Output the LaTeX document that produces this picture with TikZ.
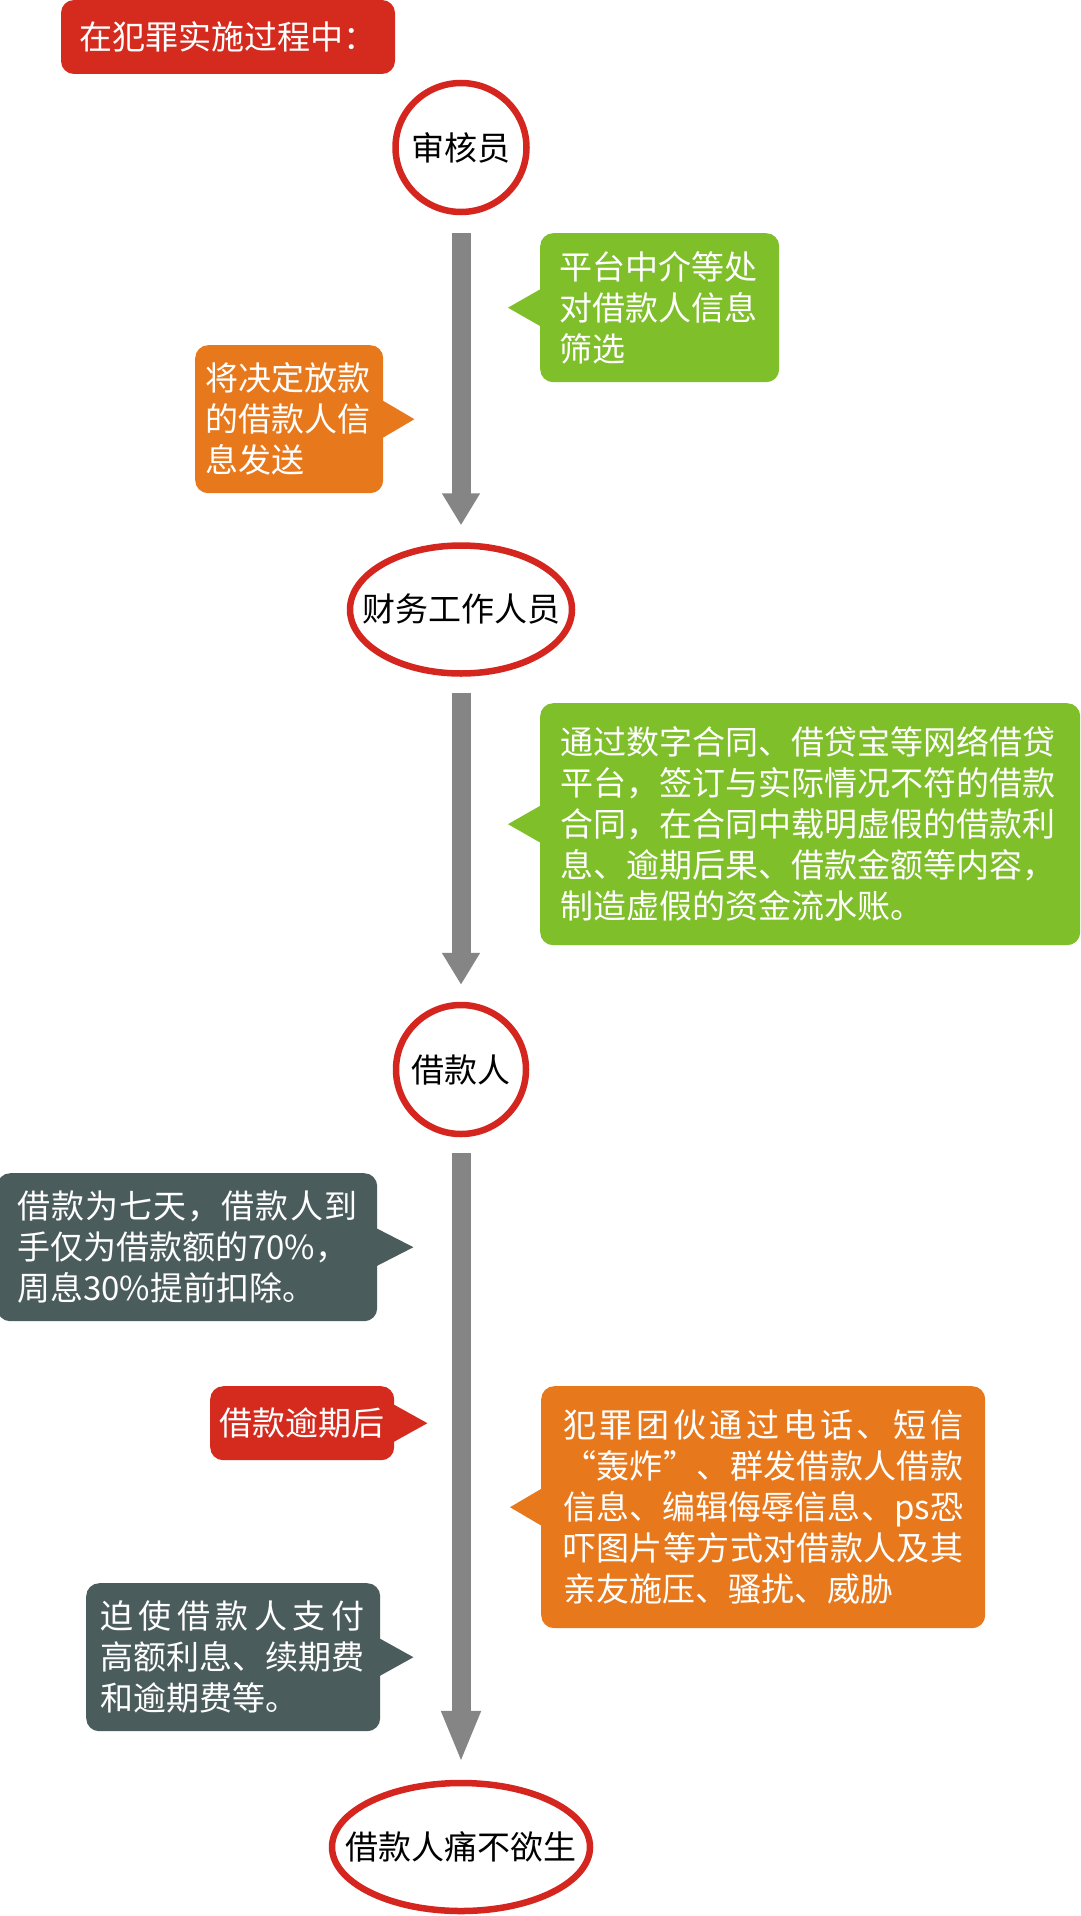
\documentclass[tikz,border=0pt]{standalone}
\usepackage{fontspec}
\setmainfont{Noto Sans CJK SC}
\usetikzlibrary{calc,arrows.meta,shapes.geometric}
\definecolor{cred}{HTML}{D52B1E}
\definecolor{cring}{HTML}{D4261E}
\definecolor{cgreen}{HTML}{7EBF2A}
\definecolor{corange}{HTML}{E8781C}
\definecolor{cdark}{HTML}{4B5C5C}
\definecolor{cgray}{HTML}{858585}
\newcommand\bubfont{\fontsize{33pt}{41pt}\selectfont}
% spread characters of a line evenly over a given width
\def\SpreadGo#1{#1\SpreadNext}
\def\SpreadNext#1{\ifx\relax#1\else\hfil#1\expandafter\SpreadNext\fi}
\newcommand\spreadline[2]{\leavevmode\hbox to #1{\SpreadGo#2\relax}}
\def\PSword{ps}
\begin{document}
\begin{tikzpicture}[x=1pt,y=-1pt,
  bub/.style={rounded corners=13pt, inner ysep=0pt, text=white, font=\bubfont, align=left, anchor=north west},
  stage/.style={ellipse, draw=cring, line width=6.5pt, fill=white, inner sep=0pt},
  stagetext/.style={font=\bubfont, text=black, inner sep=0pt},
  flow/.style={draw=cgray, line width=19pt}
]
\fill[white] (0,0) rectangle (1080,1916);
\useasboundingbox (0,0) rectangle (1080,1916);

% title
\node[fill=cred, rounded corners=13pt, text=white, font=\bubfont, minimum width=334pt, minimum height=74pt, inner sep=0pt] (title) at (228,37) {在犯罪实施过程中：};

% stages
\node[stage, minimum width=131pt, minimum height=129pt] (c1) at (461,147.5) {};
\node[stagetext] (t1) at (c1.center) {审核员};
\node[stage, minimum width=222pt, minimum height=128pt] (c2) at (461,609.5) {};
\node[stagetext] (t2) at (c2.center) {财务工作人员};
\node[stage, minimum width=130pt, minimum height=129pt] (c3) at (461,1069.5) {};
\node[stagetext] (t3) at (c3.center) {借款人};
\node[stage, minimum width=258pt, minimum height=128pt] (c4) at (461,1847) {};
\node[stagetext] (t4) at (c4.center) {借款人痛不欲生};

% flow arrows
\draw[flow, -{Triangle[width=36pt,length=32pt]}] ($(c1.south)+(0,18)$) -- ($(c2.north)+(0,-17)$);
\draw[flow, -{Triangle[width=36pt,length=32pt]}] ($(c2.south)+(0,16)$) -- ($(c3.north)+(0,-17)$);
\draw[flow, -{Triangle[width=36pt,length=52pt]}] ($(c3.south)+(0,16)$) -- ($(c4.north)+(0,-17)$);

% bubbles
\node[bub, fill=cgreen, text width=200pt, inner xsep=19.5pt, minimum height=149pt] (g1) at (540,233)
  {平台中介等处\\对借款人信息\\筛选};
\fill[cgreen] ($(g1.west)+(3,-20)$) -- ($(g1.west)+(-32,0)$) -- ($(g1.west)+(3,20)$) -- cycle;

\node[bub, fill=corange, text width=168pt, inner xsep=10pt, minimum height=148pt] (o1) at (195,345)
  {将决定放款\\的借款人信\\息发送};
\fill[corange] ($(o1.east)+(-3,-20)$) -- ($(o1.east)+(31,0)$) -- ($(o1.east)+(-3,20)$) -- cycle;

\node[bub, fill=cgreen, text width=500pt, inner xsep=20pt, minimum height=242pt] (g2) at (540,703)
  {通过数字合同、借贷宝等网络借贷\\平台，签订与实际情况不符的借款\\合同，在合同中载明虚假的借款利\\息、逾期后果、借款金额等内容，\\制造虚假的资金流水账。};
\fill[cgreen] ($(g2.west)+(3,-20)$) -- ($(g2.west)+(-32,0)$) -- ($(g2.west)+(3,20)$) -- cycle;

\node[bub, fill=cdark, text width=340pt, inner xsep=20pt, minimum height=148pt] (d1) at (-3,1173)
  {\spreadline{340pt}{借款为七天，借款人到}\\手仅为借款额的70\%，\\周息30\%提前扣除。};
\fill[cdark] ($(d1.east)+(-3,-20)$) -- ($(d1.east)+(36,0)$) -- ($(d1.east)+(-3,20)$) -- cycle;

\node[bub, fill=cred, align=center, minimum width=184pt, minimum height=74pt, inner xsep=0pt] (r2) at (210,1386)
  {借款逾期后};
\fill[cred] ($(r2.east)+(-3,-20)$) -- ($(r2.east)+(33,0)$) -- ($(r2.east)+(-3,20)$) -- cycle;

\node[bub, fill=corange, text width=400pt, inner xsep=22pt, minimum height=242pt] (o2) at (541,1386)
  {\spreadline{400pt}{犯罪团伙通过电话、短信}\\
   \spreadline{400pt}{“轰炸”、群发借款人借款}\\
   \spreadline{400pt}{信息、编辑侮辱信息、\PSword 恐}\\
   \spreadline{400pt}{吓图片等方式对借款人及其}\\
   亲友施压、骚扰、威胁};
\fill[corange] ($(o2.west)+(3,-20)$) -- ($(o2.west)+(-31,0)$) -- ($(o2.west)+(3,20)$) -- cycle;

\node[bub, fill=cdark, text width=266pt, inner xsep=14pt, minimum height=148pt] (d2) at (86,1583)
  {\spreadline{264pt}{迫使借款人支付}\\
   \spreadline{264pt}{高额利息、续期费}\\
   和逾期费等。};
\fill[cdark] ($(d2.east)+(-3,-20)$) -- ($(d2.east)+(33,0)$) -- ($(d2.east)+(-3,20)$) -- cycle;
\end{tikzpicture}
\end{document}
